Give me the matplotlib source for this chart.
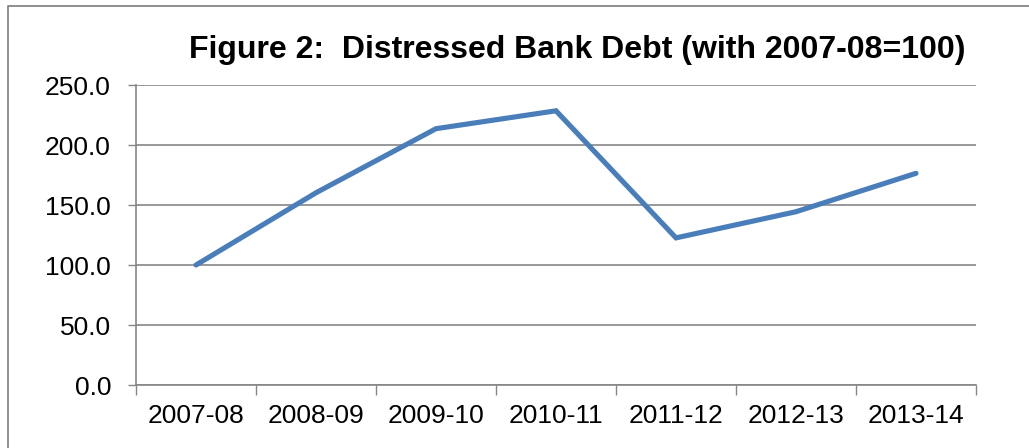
import matplotlib
matplotlib.use("Agg")
import matplotlib.pyplot as plt
from matplotlib.lines import Line2D
from matplotlib.ticker import FixedLocator, FuncFormatter

categories = ["2007-08", "2008-09", "2009-10", "2010-11", "2011-12", "2012-13", "2013-14"]
values = [100.0, 160.2, 213.6, 228.5, 122.6, 144.4, 176.4]
yticks = [0, 50, 100, 150, 200, 250]
title = "Figure 2:  Distressed Bank Debt (with 2007-08=100)"

plt.rcParams['font.family'] = ['Liberation Sans', 'DejaVu Sans']

fig = plt.figure(figsize=(10.29, 4.48), dpi=100)
ax = fig.add_axes([136/1029, 63/448, 840/1029, 300/448])

grid_c = "#868686"
x = list(range(len(categories)))
ax.plot(x, values, color="#4A7EBB", linewidth=3.7, solid_capstyle="round", solid_joinstyle="miter", zorder=3)

ax.set_xlim(-0.5, len(categories) - 0.5)
ax.set_ylim(0, 250)
ax.set_yticks(yticks)
ax.yaxis.set_major_formatter(FuncFormatter(lambda v, p: f"{v:.1f}"))
ax.grid(axis="y", color=grid_c, linewidth=1.2, zorder=1)

ax.set_xticks(x)
ax.set_xticklabels(categories)
ax.xaxis.set_minor_locator(FixedLocator([i - 0.5 for i in range(len(categories) + 1)]))
ax.tick_params(axis="x", which="major", length=0, pad=14, labelsize=19, colors="black")
ax.tick_params(axis="x", which="minor", length=7, width=1, color=grid_c, direction="out")
ax.tick_params(axis="y", which="major", length=6, width=1, color=grid_c, pad=12, labelsize=19, labelcolor="black")

for s in ["top", "right"]:
    ax.spines[s].set_visible(False)
ax.spines["left"].set_color(grid_c)
ax.spines["bottom"].set_color(grid_c)
ax.spines["left"].set_linewidth(1.2)
ax.spines["bottom"].set_linewidth(1.2)

fig.text(577/1029, 1 - 50/448, title, ha="center", va="center", fontsize=23, fontweight="bold")

fig.add_artist(Line2D([8/1029, 8/1029, 1.0], [0.0, 1 - 6/448, 1 - 6/448], transform=fig.transFigure,
                      color=grid_c, linewidth=1.3))

fig.savefig("out.png", dpi=100)
